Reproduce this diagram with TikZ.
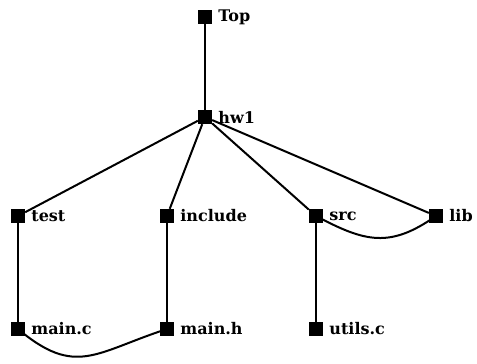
\documentclass[tikz,border=0pt]{standalone}
\usepackage{fontspec}
\setmainfont{DejaVu Serif}
\begin{document}
\begin{tikzpicture}[x=1pt,y=-1pt,
  sq/.style={fill=black,minimum size=14pt,inner sep=0pt,
    label={[lbl]east:#1}},
  lbl/.style={font=\bfseries\fontsize{16}{18}\selectfont,inner sep=0pt,xshift=6pt},
  edge/.style={line width=2pt}]
\useasboundingbox (0,0) rectangle (477,364);
\node[sq=Top] (top) at (205,17) {};
\node[sq=hw1] (hw1) at (205,117) {};
\node[sq=test] (test) at (18,216) {};
\node[sq=include] (inc) at (167,216) {};
\node[sq=src] (src) at (316,216) {};
\node[sq=lib] (lib) at (436,216) {};
\node[sq=main.c] (mc) at (18,329) {};
\node[sq=main.h] (mh) at (167,329) {};
\node[sq=utils.c] (ut) at (316,329) {};
\draw[edge] (top) -- (hw1);
\draw[edge] (hw1) -- (test);
\draw[edge] (hw1) -- (inc);
\draw[edge] (hw1) -- (src);
\draw[edge] (hw1) -- (lib);
\draw[edge] (test) -- (mc);
\draw[edge] (inc) -- (mh);
\draw[edge] (src) -- (ut);
\draw[edge] (src.center) to[out=-28,in=-145,looseness=1.2] (lib.center);
\draw[edge] (mc.center) to[out=-40,in=-162,looseness=1.3] (mh.center);
\end{tikzpicture}
\end{document}
